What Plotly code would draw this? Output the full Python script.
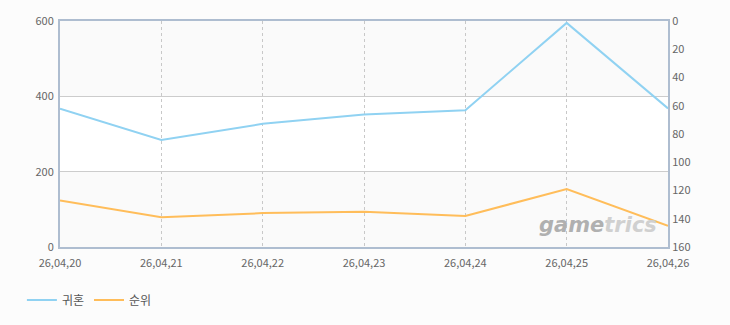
import plotly.graph_objects as go

dates = ["26,04,20", "26,04,21", "26,04,22", "26,04,23", "26,04,24", "26,04,25", "26,04,26"]
gwihon = [367, 284, 327, 352, 363, 595, 368]
rank = [127, 139, 136, 135, 138, 119, 145]

left_ticks = [0, 200, 400, 600]
right_ticks = [0, 20, 40, 60, 80, 100, 120, 140, 160]

xs = list(range(len(dates)))
font = "Noto Sans CJK KR, DejaVu Sans, sans-serif"
axis_col = "#aebdd0"

fig = go.Figure()
fig.add_trace(go.Scatter(x=xs, y=gwihon, name="귀혼", mode="lines",
                         line=dict(color="#90d2f2", width=2)))
fig.add_trace(go.Scatter(x=xs, y=rank, name="순위", mode="lines", yaxis="y2",
                         line=dict(color="#ffbd5a", width=2)))

for y0, y1 in [(0, 200), (400, 600)]:
    fig.add_shape(type="rect", xref="paper", yref="y", x0=0, x1=1, y0=y0, y1=y1,
                  fillcolor="#fafafa", line_width=0, layer="below")

fig.add_annotation(xref="paper", yref="paper", x=0.985, y=0.035, xanchor="right", yanchor="bottom",
                   text="<b><i><span style='color:#b0b0b0'>game</span><span style='color:#d0d0d0'>trics</span></i></b>",
                   showarrow=False, font=dict(family="DejaVu Sans, sans-serif", size=21))

fig.update_layout(
    width=730, height=325,
    margin=dict(l=60, r=62, t=16, b=78),
    paper_bgcolor="#fcfcfc", plot_bgcolor="#ffffff",
    font=dict(family=font, size=11, color="#666666"),
    showlegend=True,
    legend=dict(orientation="h", xref="container", yref="container", x=0.03, y=0.077,
                xanchor="left", yanchor="middle", font=dict(size=12, color="#555555"),
                itemwidth=30),
    xaxis=dict(range=[0, 6], tickvals=xs, ticktext=dates, showgrid=True,
               gridcolor="#c8c8c8", griddash="3px,3px", gridwidth=1,
               showline=True, linecolor=axis_col, linewidth=2, mirror=True,
               zeroline=False, ticks="", ticklabelstandoff=5,
               tickfont=dict(size=11, color="#666666")),
    yaxis=dict(range=[0, 600], tickvals=left_ticks, showgrid=True, gridcolor="#cccccc",
               showline=True, linecolor=axis_col, linewidth=2, mirror=True,
               zeroline=False, ticks="", ticklabelstandoff=2),
    yaxis2=dict(range=[160, 0], tickvals=right_ticks, overlaying="y", side="right",
                showgrid=False, zeroline=False, showline=True, linecolor=axis_col,
                linewidth=2, ticks="", ticklabelstandoff=0),
)

fig.write_html("out.html")
